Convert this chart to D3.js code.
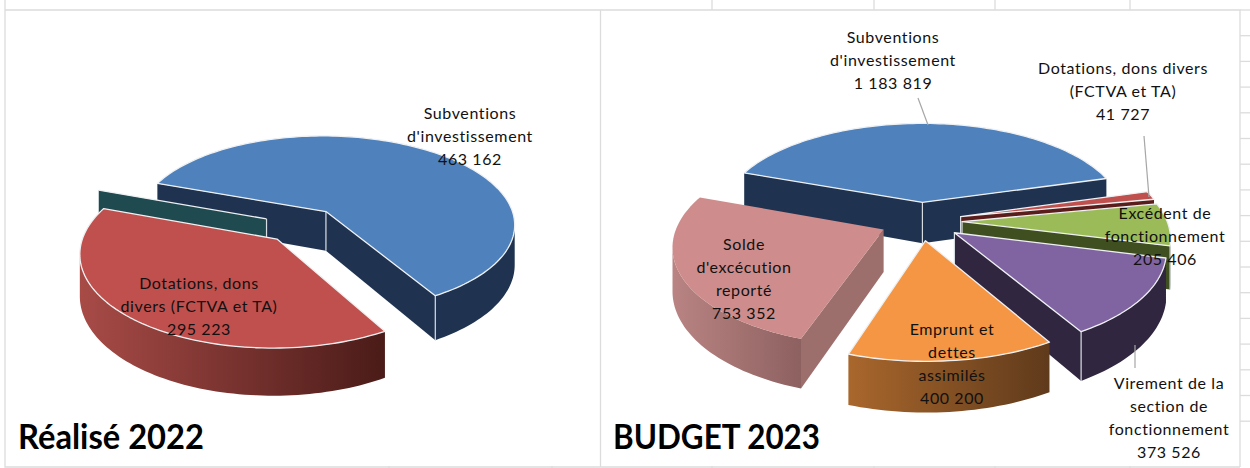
<!DOCTYPE html>
<html lang="fr">
<head>
<meta charset="utf-8">
<title>Réalisé 2022 / BUDGET 2023</title>
<script src="https://cdnjs.cloudflare.com/ajax/libs/d3/7.8.5/d3.min.js"></script>
<style>
html,body{margin:0;padding:0;background:#fff;overflow:hidden}
text{font-family:Lato,"Open Sans",sans-serif;fill:#111}
</style>
</head>
<body>
<svg id="chart" width="1250" height="468" xmlns="http://www.w3.org/2000/svg"></svg>
<script>
// ---- data ----
const categories2022 = ["Subventions d'investissement", "Dotations, dons divers (FCTVA et TA)", "Autres"];
const values2022 = [463162, 295223, 0];
const labels2022 = [["Subventions", "d'investissement"], ["Dotations, dons", "divers (FCTVA et TA)"], null];

const categories2023 = ["Subventions d'investissement", "Dotations, dons divers (FCTVA et TA)", "Excédent de fonctionnement", "Virement de la section de fonctionnement", "Emprunt et dettes assimilés", "Solde d'excécution reporté"];
const values2023 = [1183819, 41727, 205406, 373526, 400200, 753352];
const labels2023 = [["Subventions", "d'investissement"], ["Dotations, dons divers", "(FCTVA et TA)"], ["Excédent de", "fonctionnement"], ["Virement de la", "section de", "fonctionnement"], ["Emprunt et", "dettes", "assimilés"], ["Solde", "d'excécution", "reporté"]];

const titles = ["Réalisé 2022", "BUDGET 2023"];

// ---- layout and style ----
const firstSliceDeg = -70, explosion = 0.2;
const viewLeft  = {cx:302, cy:225, rx:190.5, ry:89.6, p:0.139, depth:40};
const viewRight = {cx:921, cy:221, rx:205, ry:96,   p:0.15,  depth:42};
const stylesLeft = [
  {top:"#4f81bd", wall:["#1f3350","#1f3350"], face:"#1f3350", edge:true},
  {top:"#c0504d", wall:["#a84b47","#4a1b18"], face:"#4a1b18", edge:true},
  {top:"#1f4a50", wall:["#1f4a50","#1f4a50"], face:"#1f4a50", edge:true}
];
const stylesRight = [
  {top:"#4f81bd", wall:["#1f3350","#1f3350"], face:"#1f3350", edge:true},
  {top:"#c0504d", wall:["#5a1d1b","#5a1d1b"], face:"#5a1d1b", edge:true},
  {top:"#9bbb59", wall:["#3f4f1f","#3f4f1f"], face:"#3f4f1f", edge:true},
  {top:"#8064a2", wall:["#30263f","#30263f"], face:"#30263f", edge:true},
  {top:"#f59644", wall:["#a9672c","#5f3a1b"], face:"#5f3a1b", edge:true},
  {top:"#ce8d8c", wall:["#b98483","#8d6160"], face:"#9c6f6d", edge:false}
];
const orderLeft = [0, 2, 1], orderRight = [0, 5, 1, 2, 3, 4];
const labelPosLeft = [{x:470, y:113}, {x:199, y:283}];
const labelPosRight = [{x:893, y:37}, {x:1123, y:68}, {x:1165, y:213}, {x:1169, y:383}, {x:952, y:329}, {x:744, y:244}];
const lineStep = 23;
const leaders = [[918,98,928,125], [1144,136,1149,197], [1135,345,1135,368]];
const gridV = [712, 874, 995, 1130], gridTicksBottom = [389, 552, 712, 874, 995, 1130];
const gridH = d3.range(10, 440, 25.7);
const titlePos = [{x:18, y:449, w:186}, {x:613, y:449, w:207}];

// ---- drawing ----
const svg = d3.select("#chart");
const defs = svg.append("defs");
const fmt = d3.formatLocale({decimal:",", thousands:" ", grouping:[3], currency:["","€"]}).format(",d");
const rad = d => d * Math.PI / 180;
const linePath = d3.line().x(d => d[0]).y(d => d[1]);
const gridColor = "#dcdcdc";

const grid = svg.append("g").attr("stroke", gridColor).attr("stroke-width", 1.3).attr("fill", "none");
gridV.forEach(x => grid.append("line").attr("x1", x).attr("x2", x).attr("y1", 0).attr("y2", 10));
gridTicksBottom.forEach(x => grid.append("line").attr("x1", x).attr("x2", x).attr("y1", 466).attr("y2", 468));
gridH.forEach(y => grid.append("line").attr("x1", 1240).attr("x2", 1250).attr("y1", y).attr("y2", y));
grid.append("path").attr("d", "M5,0V467H1240M5,10H1240V467M600.5,10V467");

function drawPie(id, values, styles, order, view, labels, labelPos) {
  const g = svg.append("g").attr("class", id);
  const arcs = d3.pie().sort(null).value(d => d)
    .startAngle(rad(firstSliceDeg)).endAngle(rad(firstSliceDeg) + 2 * Math.PI)(values);

  const project = (u, v, z) => {
    const w = 1 - view.p * v;
    return [view.cx + view.rx * u / w, view.cy + (view.ry * v + z * view.depth) / w];
  };

  order.forEach(i => {
    const a = arcs[i], st = styles[i];
    const mid = (a.startAngle + a.endAngle) / 2;
    const ox = explosion * Math.sin(mid), oy = -explosion * Math.cos(mid);
    const rimAt = (t, z) => project(ox + Math.sin(t), oy - Math.cos(t), z);
    const apex = z => project(ox, oy, z);
    const n = Math.max(1, Math.ceil((a.endAngle - a.startAngle) / rad(1.5)));
    const angles = d3.range(n + 1).map(k => a.startAngle + (a.endAngle - a.startAngle) * k / n);
    const topRim = angles.map(t => rimAt(t, 0));

    const gradId = `${id}-grad-${i}`;
    const gr = defs.append("linearGradient").attr("id", gradId);
    gr.append("stop").attr("offset", "0%").attr("stop-color", st.wall[0]);
    gr.append("stop").attr("offset", "100%").attr("stop-color", st.wall[1]);

    // outer wall: only the stretch of rim running right to left faces the viewer
    const run = angles.filter((t, k) => {
      const prev = k > 0 && topRim[k][0] < topRim[k - 1][0];
      const next = k < n && topRim[k + 1][0] < topRim[k][0];
      return prev || next;
    });
    if (a.value > 0 && run.length > 1) {
      const pts = run.map(t => rimAt(t, 0)).concat(run.slice().reverse().map(t => rimAt(t, 1)));
      g.append("path").attr("d", linePath(pts) + "Z").attr("fill", `url(#${gradId})`);
    }

    // cut faces
    const startVisible = rimAt(a.startAngle, 0)[0] < apex(0)[0];
    const endVisible = apex(0)[0] < rimAt(a.endAngle, 0)[0];
    const face = t => g.append("path")
      .attr("d", linePath([apex(0), rimAt(t, 0), rimAt(t, 1), apex(1)]) + "Z")
      .attr("fill", st.face);
    if (startVisible) face(a.startAngle);
    if (endVisible) face(a.endAngle);

    // white vertical edges
    if (st.edge) {
      const vEdge = (p, q) => g.append("line").attr("x1", p[0]).attr("y1", p[1]).attr("x2", q[0]).attr("y2", q[1])
        .attr("stroke", "#d8dde3").attr("stroke-width", 1.2);
      if (startVisible || endVisible) vEdge(apex(0), apex(1));
      if (a.value > 0 && endVisible && run.length > 1 && run[run.length - 1] === a.endAngle) vEdge(rimAt(a.endAngle, 0), rimAt(a.endAngle, 1));
      if (a.value > 0 && startVisible && run.length > 1 && run[0] === a.startAngle) vEdge(rimAt(a.startAngle, 0), rimAt(a.startAngle, 1));
    }

    // top surface
    if (a.value > 0) {
      g.append("path").attr("d", linePath([apex(0), ...topRim]) + "Z")
        .attr("fill", st.top)
        .attr("stroke", st.edge ? "#eef0f2" : "none").attr("stroke-width", 1.3).attr("stroke-linejoin", "round");
    } else {
      g.append("path").attr("d", linePath([apex(0), rimAt(a.startAngle, 0)]))
        .attr("stroke", "#eef0f2").attr("stroke-width", 1.3);
    }
  });

  // data labels
  labels.forEach((lines, i) => {
    if (!lines) return;
    const t = g.append("text").attr("text-anchor", "middle").attr("font-size", 16).attr("letter-spacing", 0.6);
    lines.concat(fmt(values[i])).forEach((s, k) => {
      t.append("tspan").attr("x", labelPos[i].x).attr("y", labelPos[i].y + k * lineStep).attr("dy", "0.35em").text(s);
    });
  });
}

drawPie("left", values2022, stylesLeft, orderLeft, viewLeft, labels2022, labelPosLeft);
drawPie("right", values2023, stylesRight, orderRight, viewRight, labels2023, labelPosRight);

leaders.forEach(d => svg.append("line").attr("x1", d[0]).attr("y1", d[1]).attr("x2", d[2]).attr("y2", d[3])
  .attr("stroke", "#a6a6a6").attr("stroke-width", 1.2));

titles.forEach((s, i) => svg.append("text").attr("x", titlePos[i].x).attr("y", titlePos[i].y)
  .attr("textLength", titlePos[i].w).attr("lengthAdjust", "spacingAndGlyphs")
  .attr("font-size", 34).attr("font-weight", 700).style("fill", "#000").text(s));
</script>
</body>
</html>
